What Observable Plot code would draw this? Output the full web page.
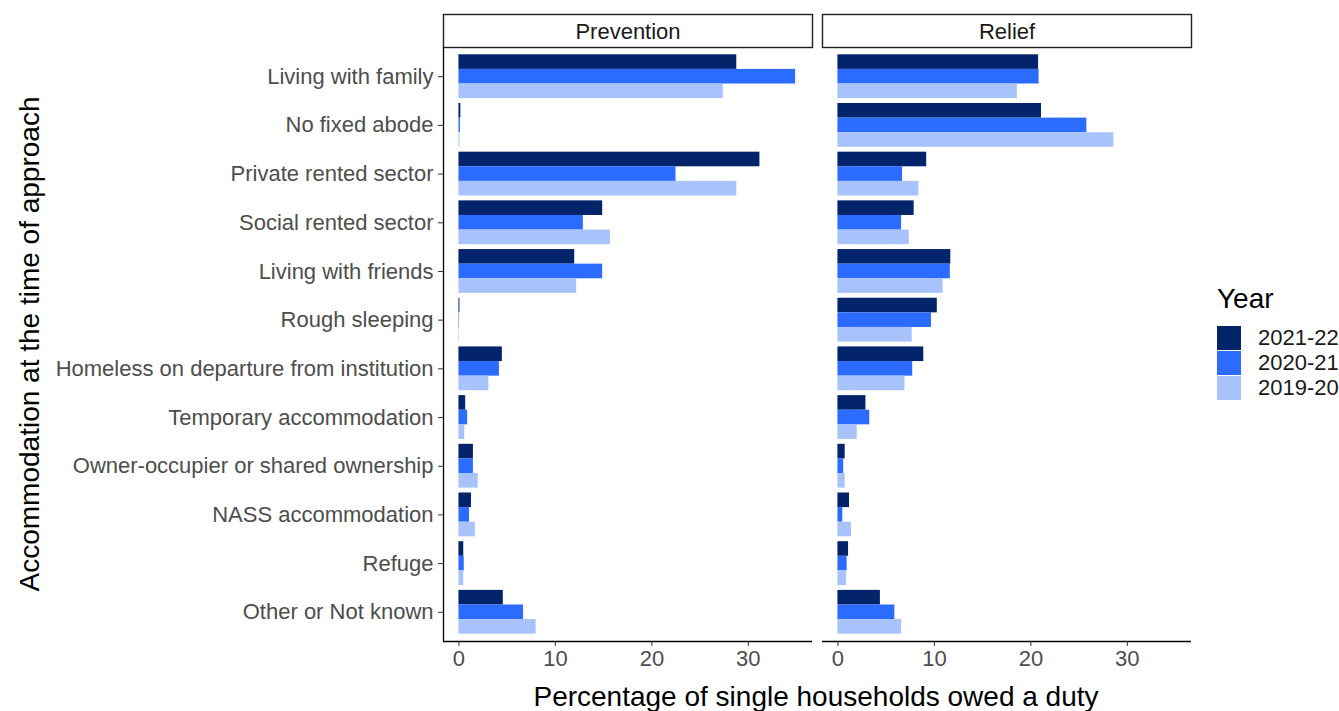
<!DOCTYPE html>
<html>
<head>
<meta charset="utf-8">
<script src="https://cdn.jsdelivr.net/npm/d3@7"></script>
<script src="https://cdn.jsdelivr.net/npm/@observablehq/plot@0.6"></script>
<style>
  body { margin: 0; background: #fff; font-family: "Liberation Sans", Arial, sans-serif; }
  #wrap { position: relative; width: 1339px; height: 711px; overflow: hidden; }
  .ytitle { position: absolute; left: 30px; top: 344px; transform: translate(-50%, -50%) rotate(-90deg); white-space: nowrap; font-size: 28px; color: #000; }
  .xtitle { position: absolute; left: 816px; top: 697px; transform: translate(-50%, -50%); white-space: nowrap; font-size: 28px; color: #000; }
  .legend { position: absolute; left: 1217px; top: 282px; }
  .legend .lt { font-size: 28px; color: #000; line-height: 34px; margin-bottom: 9px; }
  .legend .row { display: flex; align-items: center; height: 25px; }
  .legend .sw { width: 24px; height: 24px; margin-right: 17px; }
  .legend .lab { font-size: 22px; color: #1a1a1a; }
</style>
</head>
<body>
<div id="wrap">
  <div id="chart"></div>
  <div class="ytitle">Accommodation at the time of approach</div>
  <div class="xtitle">Percentage of single households owed a duty</div>
  <div class="legend" id="legend"></div>
</div>
<script>
// ---- Data ----
const categories = [
  "Living with family",
  "No fixed abode",
  "Private rented sector",
  "Social rented sector",
  "Living with friends",
  "Rough sleeping",
  "Homeless on departure from institution",
  "Temporary accommodation",
  "Owner-occupier or shared ownership",
  "NASS accommodation",
  "Refuge",
  "Other or Not known"
];
const panels = ["Prevention", "Relief"];
const years = ["2021-22", "2020-21", "2019-20"];
const yearColors = ["#03236a", "#2c6bff", "#a8c3fc"];

const prevention_2021_22 = [28.8, 0.2, 31.2, 14.9, 12.0, 0.1, 4.5, 0.7, 1.5, 1.3, 0.5, 4.6];
const prevention_2020_21 = [34.9, 0.15, 22.5, 12.9, 14.9, 0.05, 4.2, 0.9, 1.5, 1.1, 0.55, 6.7];
const prevention_2019_20 = [27.4, 0.1, 28.8, 15.7, 12.2, 0.05, 3.1, 0.6, 2.0, 1.7, 0.5, 8.0];
const relief_2021_22 = [20.8, 21.1, 9.2, 7.9, 11.7, 10.3, 8.9, 2.9, 0.75, 1.2, 1.1, 4.4];
const relief_2020_21 = [20.85, 25.8, 6.7, 6.6, 11.65, 9.7, 7.75, 3.3, 0.6, 0.5, 0.95, 5.9];
const relief_2019_20 = [18.6, 28.6, 8.4, 7.4, 10.9, 7.7, 6.95, 2.0, 0.75, 1.4, 0.9, 6.6];

const xTicks = [0, 10, 20, 30];

// ---- Build table ----
const series = {
  "Prevention": [prevention_2021_22, prevention_2020_21, prevention_2019_20],
  "Relief": [relief_2021_22, relief_2020_21, relief_2019_20]
};
const rows = [];
for (const p of panels) {
  series[p].forEach((vals, j) => {
    vals.forEach((v, i) => {
      rows.push({panel: p, year: years[j], yearIndex: j, catIndex: i, category: categories[i], value: v});
    });
  });
}

// dodge: three bars filling 0.9 of each category step
const barW = 0.3;
const center = d => d.catIndex + (d.yearIndex - 1) * barW;

const W = 1339, H = 711;
const mL = 442, mR = 148, mT = 47, mB = 70;
const panelH = H - mT - mB;
const xDomain = [-1.6, 36.65];
const yDomain = [-0.6, categories.length - 1 + 0.6];

const chart = Plot.plot({
  width: W,
  height: H,
  marginLeft: mL,
  marginRight: mR,
  marginTop: mT,
  marginBottom: mB,
  style: {fontFamily: "'Liberation Sans', Arial, sans-serif", fontSize: "22px", background: "white", overflow: "visible"},
  fx: {domain: panels, padding: 0.0264, axis: null, label: null},
  x: {domain: xDomain, label: null},
  y: {domain: yDomain, reverse: true, label: null},
  color: {domain: years, range: yearColors},
  marks: [
    Plot.rect(rows, {
      fx: "panel",
      x1: () => 0,
      x2: "value",
      y1: d => center(d) - barW / 2,
      y2: d => center(d) + barW / 2,
      fill: "year"
    }),
    // strip boxes
    Plot.frame({insetTop: -33, insetBottom: panelH, stroke: "#222", strokeWidth: 1.4}),
    Plot.text(panels, {fx: d => d, text: d => d, frameAnchor: "top", lineAnchor: "middle", dy: -16, fill: "#1a1a1a", fontSize: 22}),
    // axis lines
    Plot.ruleY([yDomain[1]], {stroke: "#000", strokeWidth: 1.3}),
    Plot.ruleX([xDomain[0]], {fx: () => panels[0], stroke: "#000", strokeWidth: 1.3}),
    Plot.axisY({
      ticks: d3.range(categories.length),
      tickFormat: i => categories[i],
      tickSize: 5,
      tickPadding: 5,
      fill: "#4d4d4d",
      stroke: "#333",
      fontSize: 22,
      label: null
    }),
    Plot.axisX({
      ticks: xTicks,
      tickSize: 5,
      tickPadding: 4,
      fill: "#4d4d4d",
      stroke: "#333",
      fontSize: 22,
      label: null
    })
  ]
});
document.getElementById("chart").appendChild(chart);

// legend
const leg = document.getElementById("legend");
const t = document.createElement("div");
t.className = "lt";
t.textContent = "Year";
leg.appendChild(t);
years.forEach((y, j) => {
  const r = document.createElement("div");
  r.className = "row";
  const s = document.createElement("div");
  s.className = "sw";
  s.style.background = yearColors[j];
  const l = document.createElement("div");
  l.className = "lab";
  l.textContent = y;
  r.appendChild(s);
  r.appendChild(l);
  leg.appendChild(r);
});
</script>
</body>
</html>
